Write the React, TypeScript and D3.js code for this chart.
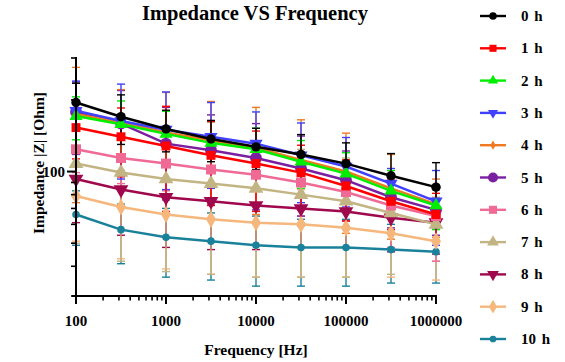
import React from "react";
import * as d3 from "d3";

const frequencies = [100, 316.2, 1000, 3162, 10000, 31623, 100000, 316228, 1000000];
const xTickLabels = ["100", "1000", "10000", "100000", "1000000"];
const xTickValues = [100, 1000, 10000, 100000, 1000000];
const seriesNames = ["0 h", "1 h", "2 h", "3 h", "4 h", "5 h", "6 h", "7 h", "8 h", "9 h", "10 h"];

const mean0h = [195, 170, 151, 137, 127, 118, 108, 96, 86];
const mean1h = [153, 140, 128, 117, 108, 99, 87, 75, 66];
const mean2h = [171, 158, 144, 132, 124, 110, 98, 83, 72];
const mean3h = [180, 163, 150, 140, 131, 117, 105, 89, 75];
const mean4h = [174, 161, 146, 135, 126, 112, 100, 85, 73];
const mean5h = [178, 159, 131, 123, 114, 103, 92, 78, 69];
const mean6h = [124, 114, 108, 102, 97, 90, 82, 72, 65];
const mean7h = [108, 99, 93, 89, 85, 80, 75, 67, 60];
const mean8h = [93, 84, 78, 75, 72, 70, 68, 64, 61];
const mean9h = [79, 71, 66, 63, 61, 60, 58, 55, 51];
const mean10h = [66, 57, 53, 51, 49, 48, 48, 47, 46];

const sd0h = [40, 40, 30, 27, 25, 25, 24, 23, 23];
const sd1h = [40, 45, 60, 45, 40, 30, 25, 18, 15];
const sd2h = [35, 40, 35, 30, 28, 25, 22, 18, 15];
const sd3h = [60, 70, 66, 55, 47, 43, 34, 14, 26];
const sd4h = [100, 60, 69, 62, 60, 53, 45, 33, 20];
const sd5h = [60, 60, 55, 50, 45, 38, 30, 20, 15];
const sd6h = [25, 25, 25, 25, 25, 25, 25, 24, 23];
const sd7h = [58, 57, 55, 52, 49, 44, 39, 30, 18];
const sd8h = [32, 30, 30, 28, 25, 22, 20, 18, 16];
const sd9h = [28, 28, 27, 26, 25, 24, 22, 19, 16];
const sd10h = [17, 16, 17, 16, 16, 15, 15, 13, 12];

const means = [mean0h, mean1h, mean2h, mean3h, mean4h, mean5h, mean6h, mean7h, mean8h, mean9h, mean10h];
const sds = [sd0h, sd1h, sd2h, sd3h, sd4h, sd5h, sd6h, sd7h, sd8h, sd9h, sd10h];

const colors = ["#000000", "#FF0000", "#00EE00", "#4040FF", "#F07A22", "#7B1FA2", "#F06A96", "#C2B583", "#A0084E", "#F5B77C", "#1A819B"];
const shapes = [d3.symbolCircle, d3.symbolSquare, d3.symbolTriangle, d3.symbolTriangle, d3.symbolDiamond, d3.symbolCircle, d3.symbolSquare, d3.symbolTriangle, d3.symbolTriangle, d3.symbolDiamond, d3.symbolCircle];
const flips = [false, false, false, true, false, false, false, false, true, false, false];
const markerSizes = [70, 80, 75, 75, 30, 110, 100, 95, 95, 85, 45];
const legendSizes = [45, 50, 45, 45, 25, 80, 65, 60, 60, 55, 35];

const FONT = "'Liberation Serif', 'Times New Roman', serif";

export default function App() {
  const width = 565;
  const height = 362;
  const left = 76, right = 436, top = 58, bottom = 296;

  const x = d3.scaleLog().domain([100, 1000000]).range([left, right]);
  const y = d3.scaleLog().domain([30, 300]).range([bottom, top]);

  const line = d3.line<number>()
    .x((_, i) => x(frequencies[i]))
    .y((d) => y(d));

  const xMinor: number[] = [];
  for (let e = 2; e < 6; e++) {
    for (let k = 2; k <= 9; k++) xMinor.push(k * Math.pow(10, e));
  }
  const yMinor = [30, 40, 50, 60, 70, 80, 90, 200, 300];

  const order = d3.range(seriesNames.length).reverse();

  return (
    <svg width={width} height={height} style={{ position: "absolute", left: 0, top: 0, background: "#fff" }} fontFamily={FONT}>
      <defs>
        <clipPath id="plotclip">
          <rect x={left - 10} y={top} width={right - left + 20} height={bottom - top} />
        </clipPath>
      </defs>
      <text x={255} y={20} textAnchor="middle" fontWeight="bold" fontSize={20.5}>Impedance VS Frequency</text>

      <g clipPath="url(#plotclip)">
        {order.map((s) => {
          const c = colors[s];
          return (
            <g key={"eb" + s}>
              {means[s].map((m, i) => {
                const cx = x(frequencies[i]);
                const y1 = y(Math.min(295, m + sds[s][i]));
                const y2 = y(Math.max(30.5, m - sds[s][i]));
                return (
                  <g key={i} stroke={c} strokeWidth={1.4}>
                    <line x1={cx} x2={cx} y1={y1} y2={y2} />
                    <line x1={cx - 4} x2={cx + 4} y1={y1} y2={y1} />
                    <line x1={cx - 4} x2={cx + 4} y1={y2} y2={y2} />
                  </g>
                );
              })}
            </g>
          );
        })}
        {order.map((s) => {
          const c = colors[s];
          const sym = d3.symbol().type(shapes[s]).size(markerSizes[s])();
          return (
            <g key={"ln" + s}>
              <path d={line(means[s]) || ""} fill="none" stroke={c} strokeWidth={2.5} />
              {means[s].map((m, i) => (
                <path key={i} d={sym || ""} fill={c}
                  transform={`translate(${x(frequencies[i])},${y(m)})${flips[s] ? " rotate(180)" : ""}`} />
              ))}
            </g>
          );
        })}
      </g>

      {/* Axes */}
      <g stroke="#000" strokeWidth={2}>
        <line x1={left} x2={left} y1={top - 1} y2={bottom + 1} />
        <line x1={left - 4} x2={right + 1} y1={bottom} y2={bottom} />
        {xTickValues.map((v) => (
          <line key={"xm" + v} x1={x(v)} x2={x(v)} y1={bottom} y2={bottom + 8} />
        ))}
        {xMinor.map((v) => (
          <line key={"xn" + v} x1={x(v)} x2={x(v)} y1={bottom} y2={bottom + 4.5} strokeWidth={1.6} />
        ))}
        <line x1={left - 9} x2={left} y1={y(100)} y2={y(100)} />
        {yMinor.map((v) => (
          <line key={"yn" + v} x1={left - 5} x2={left} y1={y(v)} y2={y(v)} strokeWidth={1.6} />
        ))}
      </g>
      {xTickValues.map((v, i) => (
        <text key={"xl" + v} x={x(v)} y={326} textAnchor="middle" fontWeight="bold" fontSize={15}>{xTickLabels[i]}</text>
      ))}
      <text x={left - 11} y={y(100) + 5} textAnchor="end" fontWeight="bold" fontSize={15}>100</text>
      <text x={256} y={355} textAnchor="middle" fontWeight="bold" fontSize={15.5}>Frequency [Hz]</text>
      <text transform={`translate(44,163) rotate(-90)`} textAnchor="middle" fontWeight="bold" fontSize={15.5}>Impedance |Z| [Ohm]</text>

      {/* Legend */}
      {seriesNames.map((name, s) => {
        const ly = 16 + s * 32.3;
        const sym = d3.symbol().type(shapes[s]).size(legendSizes[s])();
        return (
          <g key={"lg" + s}>
            <line x1={480} x2={506} y1={ly} y2={ly} stroke={colors[s]} strokeWidth={2.4} />
            <path d={sym || ""} fill={colors[s]} transform={`translate(493,${ly})${flips[s] ? " rotate(180)" : ""}`} />
            <text x={521} y={ly + 5} fontWeight="bold" fontSize={15} style={{ wordSpacing: "2px" }}>{name}</text>
          </g>
        );
      })}
    </svg>
  );
}
